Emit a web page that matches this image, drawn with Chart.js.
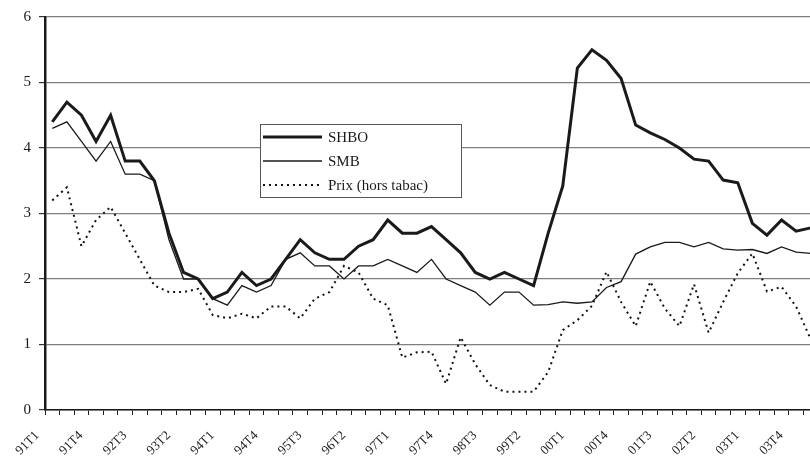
<!DOCTYPE html>
<html>
<head>
<meta charset="utf-8">
<script src="https://cdn.jsdelivr.net/npm/chart.js@4"></script>
<style>
  html, body { margin: 0; padding: 0; background: #fff; overflow: hidden; }
  #wrap { width: 818px; height: 457px; }
</style>
</head>
<body>
<div id="wrap"><canvas id="myChart" width="818" height="457"></canvas></div>
<script>
// DATA
const quarters = [
  '91T1','91T2','91T3','91T4','92T1','92T2','92T3','92T4',
  '93T1','93T2','93T3','93T4','94T1','94T2','94T3','94T4',
  '95T1','95T2','95T3','95T4','96T1','96T2','96T3','96T4',
  '97T1','97T2','97T3','97T4','98T1','98T2','98T3','98T4',
  '99T1','99T2','99T3','99T4','00T1','00T2','00T3','00T4',
  '01T1','01T2','01T3','01T4','02T1','02T2','02T3','02T4',
  '03T1','03T2','03T3','03T4','04T1'
];
const shbo = [
  4.4, 4.7, 4.5, 4.1, 4.5, 3.8, 3.8, 3.5,
  2.7, 2.1, 2.0, 1.7, 1.8, 2.1, 1.9, 2.0,
  2.3, 2.6, 2.4, 2.3, 2.3, 2.5, 2.6, 2.9,
  2.7, 2.7, 2.8, 2.6, 2.4, 2.1, 2.0, 2.1,
  2.0, 1.9, 2.7, 3.42, 5.22, 5.5, 5.34, 5.06,
  4.35, 4.23, 4.13, 4.0, 3.83, 3.8, 3.51, 3.47,
  2.85, 2.67, 2.9, 2.73, 2.78
];
const smb = [
  4.3, 4.4, 4.1, 3.8, 4.1, 3.6, 3.6, 3.5,
  2.6, 2.0, 2.0, 1.7, 1.6, 1.9, 1.8, 1.9,
  2.3, 2.4, 2.2, 2.2, 2.0, 2.2, 2.2, 2.3,
  2.2, 2.1, 2.3, 2.0, 1.9, 1.8, 1.6, 1.8,
  1.8, 1.6, 1.61, 1.65, 1.63, 1.65, 1.87, 1.96,
  2.38, 2.49, 2.56, 2.56, 2.49, 2.56, 2.46, 2.44,
  2.45, 2.39, 2.49, 2.41, 2.39
];
const prix = [
  3.2, 3.4, 2.5, 2.9, 3.1, 2.7, 2.3, 1.9,
  1.8, 1.8, 1.85, 1.45, 1.4, 1.47, 1.4, 1.58,
  1.58, 1.4, 1.7, 1.8, 2.2, 2.1, 1.7, 1.6,
  0.8, 0.88, 0.89, 0.4, 1.11, 0.7, 0.38, 0.28,
  0.28, 0.28, 0.58, 1.22, 1.37, 1.59, 2.11, 1.65,
  1.28, 1.96, 1.55, 1.28, 1.92, 1.18, 1.65, 2.09,
  2.39, 1.81, 1.88, 1.58, 1.08
];
const yTicks = [0, 1, 2, 3, 4, 5, 6];

const serif = '"Liberation Serif", "Times New Roman", serif';

// Legend drawn inside the plot, like the original
const boxLegend = {
  id: 'boxLegend',
  afterDatasetsDraw: function(chart) {
    var ctx = chart.ctx;
    var x = 260, y = 124, w = 201, h = 73;
    ctx.save();
    ctx.fillStyle = '#fff';
    ctx.fillRect(x, y, w, h);
    ctx.strokeStyle = '#555';
    ctx.lineWidth = 1;
    ctx.strokeRect(x + 0.5, y + 0.5, w, h);
    ctx.font = '15px ' + serif;
    ctx.textBaseline = 'middle';
    chart.data.datasets.forEach(function(ds, i) {
      var ly = y + 13 + i * 24;
      ctx.beginPath();
      ctx.strokeStyle = ds.borderColor;
      ctx.lineWidth = ds.borderWidth;
      ctx.setLineDash(ds.borderDash || []);
      ctx.moveTo(x + 3, ly);
      ctx.lineTo(x + 62, ly);
      ctx.stroke();
      ctx.setLineDash([]);
      ctx.fillStyle = '#1a1a1a';
      ctx.fillText(ds.label, x + 68, ly + 1);
    });
    ctx.restore();
  }
};

var ctx = document.getElementById('myChart').getContext('2d');
var myChart = new Chart(ctx, {
  type: 'line',
  data: {
    labels: quarters,
    datasets: [{
      label: 'SHBO',
      data: shbo,
      borderColor: '#1a1a1a',
      borderWidth: 3,
      pointRadius: 0,
      fill: false
    }, {
      label: 'SMB',
      data: smb,
      borderColor: '#1a1a1a',
      borderWidth: 1.3,
      pointRadius: 0,
      fill: false
    }, {
      label: 'Prix (hors tabac)',
      data: prix,
      borderColor: '#111',
      borderWidth: 2,
      borderDash: [2, 4],
      pointRadius: 0,
      fill: false
    }]
  },
  options: {
    responsive: false,
    animation: false,
    layout: { padding: { top: 17, right: 0, left: 0, bottom: 0 } },
    plugins: {
      legend: { display: false },
      tooltip: { enabled: false }
    },
    scales: {
      x: {
        type: 'category',
        offset: true,
        afterFit: function(scale) {
          scale.height = 47;
          scale.paddingLeft = 0;
          scale.paddingRight = 0;
        },
        border: { display: true, color: '#1a1a1a', width: 1.5 },
        grid: {
          offset: true,
          drawOnChartArea: false,
          drawTicks: true,
          tickLength: 5,
          tickColor: '#1a1a1a'
        },
        ticks: {
          autoSkip: false,
          maxRotation: 45,
          minRotation: 45,
          padding: 13,
          labelOffset: -15,
          color: '#1a1a1a',
          font: { family: serif, size: 13 },
          callback: function(value, index) {
            return index % 3 === 0 ? quarters[index] : '';
          }
        }
      },
      y: {
        min: yTicks[0],
        max: yTicks[yTicks.length - 1],
        afterFit: function(scale) { scale.width = 45; },
        afterBuildTicks: function(scale) {
          scale.ticks = yTicks.map(function(v) { return { value: v }; });
        },
        border: { display: true, color: '#1a1a1a', width: 2.5 },
        grid: {
          color: '#808080',
          lineWidth: 1.2,
          tickLength: 6,
          tickColor: '#333'
        },
        ticks: {
          padding: 8,
          color: '#1a1a1a',
          font: { family: serif, size: 15 }
        }
      }
    }
  },
  plugins: [boxLegend]
});
</script>
</body>
</html>
